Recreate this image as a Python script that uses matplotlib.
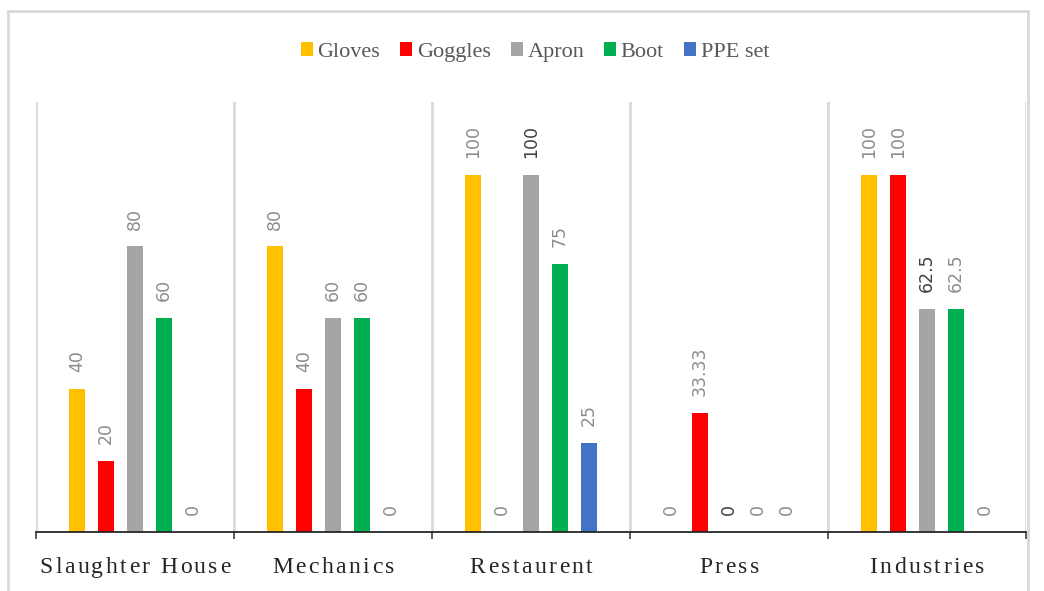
import numpy as np
import matplotlib.pyplot as plt
from matplotlib.patches import Rectangle
from matplotlib.font_manager import FontProperties

categories = ["Slaughter House", "Mechanics", "Restaurent", "Press", "Industries"]
series = ["Gloves", "Goggles", "Apron", "Boot", "PPE set"]
gloves = [40, 80, 100, 0, 100]
goggles = [20, 40, 0, 33.33, 100]
apron = [80, 60, 100, 0, 62.5]
boot = [60, 60, 75, 0, 62.5]
ppe_set = [0, 0, 25, 0, 0]
labels = [
    ["40", "80", "100", "0", "100"],
    ["20", "40", "0", "33.33", "100"],
    ["80", "60", "100", "0", "62.5"],
    ["60", "60", "75", "0", "62.5"],
    ["0", "0", "25", "0", "0"],
]
colors = ["#FFC000", "#FF0000", "#A5A5A5", "#00B050", "#4472C4"]

values = [gloves, goggles, apron, boot, ppe_set]

fig = plt.figure(figsize=(10.44, 5.91), dpi=100)
# outer chart frame
fig.patches.append(Rectangle((8 / 1044, -0.05), 1020 / 1044, 1 - 11 / 591 + 0.05,
                             transform=fig.transFigure, fill=False,
                             edgecolor="#d9d9d9", linewidth=2))

ax = fig.add_axes([36 / 1044, 1 - 532 / 591, 990 / 1044, 430 / 591])
x = np.arange(len(categories))
step = 0.1465
width = 0.076

for i, (name, vals) in enumerate(zip(series, values)):
    pos = x + (i - 2) * step
    ax.bar(pos, vals, width=width, color=colors[i], label=name, zorder=3)
    for j, (p, v) in enumerate(zip(pos, vals)):
        dark = (i == 2 and j >= 2)
        ax.annotate(labels[i][j], (p, v), xytext=(0, 12), textcoords="offset points",
                    rotation=90, ha="center", va="bottom", fontsize=12.5,
                    color="#404040" if dark else "#8c8c8c",
                    family="DejaVu Sans")

ax.set_xlim(-0.5, len(categories) - 0.5)
ax.set_ylim(0, 120.4)

# category separators
for b in np.arange(-0.5, len(categories), 1.0):
    ax.axvline(b, color="#d9d9d9", linewidth=2, zorder=1)

ax.set_yticks([])
ax.set_xticks(np.arange(-0.5, len(categories), 1.0))
ax.set_xticklabels([])
ax.tick_params(axis="x", length=5, width=1.2, color="#404040", direction="out")

for s in ["top", "left", "right"]:
    ax.spines[s].set_visible(False)
ax.spines["bottom"].set_color("#262626")
ax.spines["bottom"].set_linewidth(1.3)
ax.spines["bottom"].set_zorder(4)

# letter-spaced category names, placed one glyph at a time
renderer = fig.canvas.get_renderer()
cat_font = FontProperties(family="Liberation Serif", size=17)
tracking = 2.4  # extra pixels between glyphs


def adv(s):
    if not s:
        return 0.0
    return renderer.get_text_width_height_descent(s, cat_font, ismath=False)[0]


for j, name in enumerate(categories):
    total = adv(name) + tracking * (len(name) - 1)
    cx = ax.transData.transform((x[j], 0))[0]
    start = cx - total / 2
    for k, ch in enumerate(name):
        px = start + adv(name[:k]) + tracking * k
        fig.text(px / 1044, 18 / 591, ch, fontproperties=cat_font,
                 color="#262626", ha="left", va="baseline")

leg = fig.legend(loc="center", bbox_to_anchor=(535 / 1044, 1 - 52 / 591), ncol=5,
                 frameon=False, handlelength=0.55, handleheight=0.55,
                 handletextpad=0.2, columnspacing=0.9,
                 prop={"family": "Liberation Serif", "size": 16})
for t in leg.get_texts():
    t.set_color("#595959")

fig.savefig("out.png", dpi=100)
